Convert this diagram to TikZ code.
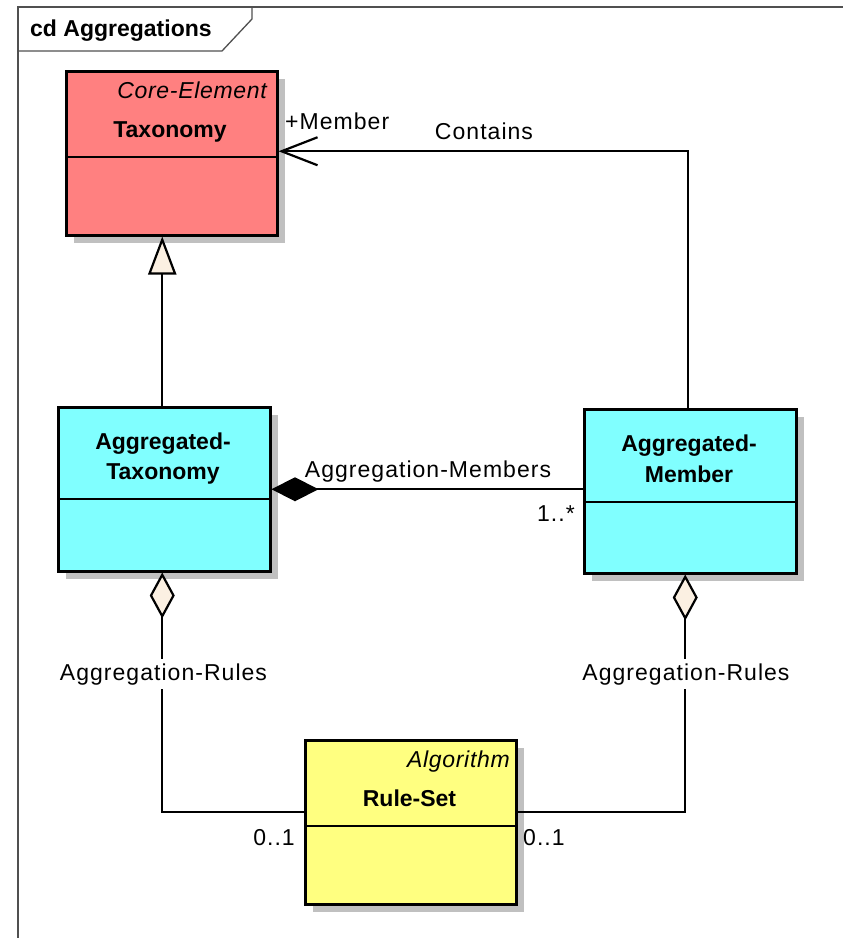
\documentclass[tikz,border=0pt]{standalone}
\usepackage{fontspec}
\setmainfont{Liberation Sans}
\newfontfamily\spacedfont[LetterSpace=4.5]{Liberation Sans}
\newfontfamily\itfont[LetterSpace=3]{Liberation Sans Italic}
\usetikzlibrary{arrows.meta,shadows}
\definecolor{taxred}{HTML}{FF8080}
\definecolor{aggcyan}{HTML}{80FFFF}
\definecolor{ruleyel}{HTML}{FFFF80}
\definecolor{shadowgray}{HTML}{C0C0C0}
\definecolor{hollowfill}{HTML}{FBF0E2}
\definecolor{framegray}{HTML}{505050}
\newcommand\dfont{\fontsize{23}{30}\selectfont}
\begin{document}
\begin{tikzpicture}[x=1pt,y=-1pt,
  classbox/.style={draw=black, line width=2.5pt, anchor=north west, inner sep=0pt,
    drop shadow={shadow xshift=8pt, shadow yshift=-8pt, fill=shadowgray, opacity=1}},
  divider/.style={draw=black, line width=2.5pt},
  conn/.style={draw=black, line width=2.2pt},
  txt/.style={font=\spacedfont\dfont, inner sep=1pt, anchor=base},
  nametxt/.style={font=\dfont\bfseries, inner sep=0pt, anchor=base},
  stereo/.style={font=\itfont\dfont, inner sep=0pt, anchor=base east},
  framestyle/.style={draw=framegray, line width=1.3pt}]
\useasboundingbox (0,0) rectangle (843,938);
\fill[white] (0,0) rectangle (843,938);

% frame
\draw[framestyle] (18,950) -- (18,7) -- (850,7);
\draw[framestyle] (18,51) -- (222,51) -- (252,19) -- (252,7);
\node[font=\dfont\bfseries, inner sep=0pt, anchor=base west] (title) at (30,36) {cd Aggregations};

% classes
\node[classbox, fill=taxred, minimum width=211pt, minimum height=164pt] (tax) at (65,70) {};
\draw[divider] (tax.north west) ++(0,87) -- ++(211,0);
\node[stereo] (taxst) at (267,98) {Core-Element};
\node[nametxt] (taxname) at (170,137) {Taxonomy};

\node[classbox, fill=aggcyan, minimum width=212pt, minimum height=164pt] (atax) at (57,406) {};
\draw[divider] (atax.north west) ++(0,93) -- ++(212,0);
\node[nametxt] (ataxa) at (163,449) {Aggregated-};
\node[nametxt] (ataxb) at (163,479) {Taxonomy};

\node[classbox, fill=aggcyan, minimum width=212pt, minimum height=164pt] (amem) at (583,408) {};
\draw[divider] (amem.north west) ++(0,94) -- ++(212,0);
\node[nametxt] (amema) at (689,451) {Aggregated-};
\node[nametxt] (amemb) at (689,482) {Member};

\node[classbox, fill=ruleyel, minimum width=211pt, minimum height=164pt] (rs) at (304,739) {};
\draw[divider] (rs.north west) ++(0,87) -- ++(211,0);
\node[stereo] (rsst) at (510,767) {Algorithm};
\node[nametxt] (rsname) at (409.5,806) {Rule-Set};

% generalization
\draw[conn, -{Triangle[length=38pt,width=28pt,fill=hollowfill]}] ([xshift=-2pt]atax.north) -- ([xshift=-9.5pt]tax.south);

% Contains association
\draw[conn, -{Straight Barb[length=36pt,width=28pt]}] ([xshift=-2pt]amem.north) |- ([yshift=2pt]tax.east);
\node[txt, anchor=base west] (member) at (284,129) {+Member};
\node[txt] (contains) at (484,139) {Contains};

% composition
\draw[conn, {Diamond[length=47pt,width=24pt]}-] (atax.east) -- (atax.east -| amem.west);
\node[txt] (aggmem) at (428,477) {Aggregation-Members};
\node[txt, anchor=base east] (mult1) at (576,521) {1..*};

% aggregation rules
\draw[conn, {Diamond[length=46pt,width=25pt,fill=hollowfill]}-] ([xshift=-2pt]atax.south) |- ([yshift=10pt]rs.west);
\node[txt, fill=white, inner ysep=4pt] (rulesl) at (163.5,680) {Aggregation-Rules};
\node[txt, anchor=base east] (mult2) at (296,845) {0..1};

\draw[conn, {Diamond[length=46pt,width=25pt,fill=hollowfill]}-] ([xshift=-5pt]amem.south) |- ([yshift=10pt]rs.east);
\node[txt, fill=white, inner ysep=4pt] (rulesr) at (686,680) {Aggregation-Rules};
\node[txt, anchor=base west] (mult3) at (522,845) {0..1};
\end{tikzpicture}
\end{document}
